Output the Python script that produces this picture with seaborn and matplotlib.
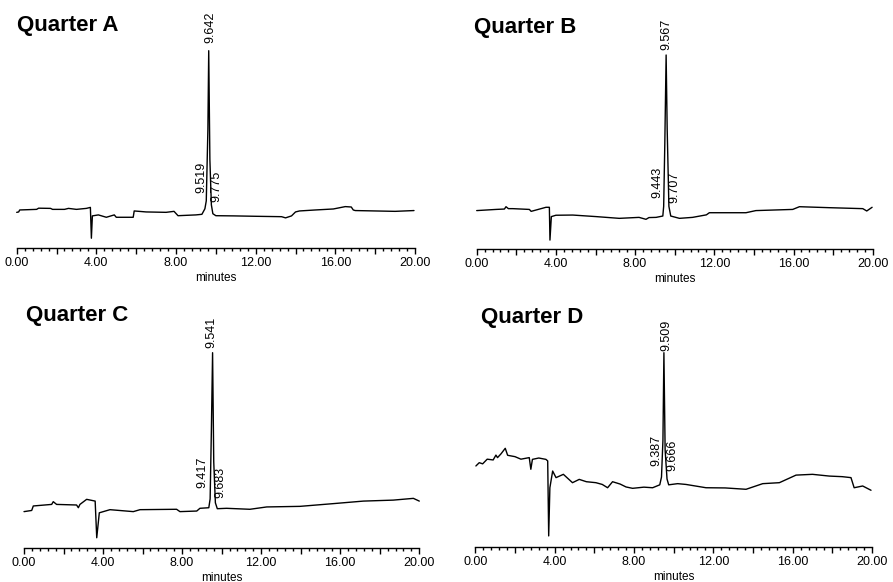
import numpy as np
import pandas as pd
import matplotlib
matplotlib.use("Agg")
import matplotlib.pyplot as plt
import seaborn as sns
from matplotlib.ticker import MultipleLocator, FuncFormatter

sns.set_style("white")
plt.rcParams["font.family"] = ["Liberation Sans", "DejaVu Sans"]
plt.rcParams["text.color"] = "black"
plt.rcParams["axes.labelcolor"] = "black"
plt.rcParams["xtick.color"] = "black"

# chromatogram traces (time in minutes, signal as % of main peak)
time_a = [0.0, 0.1, 0.15, 1.0, 1.1, 1.7, 1.8, 2.4, 2.6, 3.0, 3.5, 3.7, 3.75, 3.8, 4.1,
          4.5, 4.9, 5.0, 5.85, 5.9, 6.5, 7.5, 7.9, 8.1, 9.0, 9.3, 9.45, 9.519, 9.6, 9.642,
          9.7, 9.775, 9.85, 10.0, 10.9, 12.0, 13.3, 13.5, 13.8, 14.0, 14.2, 15.0, 15.9,
          16.5, 16.8, 16.9, 17.0, 18.0, 19.0, 19.95]
signal_a = [18.2, 18.4, 19.4, 19.7, 20.3, 20.2, 19.7, 19.7, 20.2, 19.7, 20.2, 20.7, 5.1,
            16.4, 16.9, 15.7, 16.9, 15.7, 15.7, 18.9, 18.4, 18.2, 18.7, 16.5, 16.9, 17.2,
            20.0, 24.0, 60.0, 100.0, 45.0, 22.0, 17.5, 16.5, 16.4, 16.2, 16.0, 15.4, 16.4,
            18.4, 18.9, 19.4, 19.9, 21.1, 20.9, 19.4, 19.1, 18.9, 18.7, 19.1]

time_b = [0.0, 0.98, 1.4, 1.48, 1.6, 1.82, 2.66, 2.75, 3.5, 3.67, 3.7, 3.77, 4.0, 4.85,
          6.03, 7.2, 8.2, 8.55, 8.7, 9.06, 9.4, 9.443, 9.5, 9.567, 9.62, 9.707, 9.8, 10.24,
          10.9, 11.6, 11.75, 13.6, 14.1, 15.96, 16.3, 17.8, 19.5, 19.7, 19.97]
signal_b = [19.8, 20.4, 20.6, 21.8, 20.8, 20.8, 20.4, 19.4, 21.5, 21.5, 4.6, 16.7, 17.4,
            17.5, 16.7, 15.8, 16.3, 15.3, 16.2, 16.3, 17.0, 22.0, 54.0, 100.0, 62.0, 22.0,
            17.0, 15.8, 16.3, 17.6, 18.7, 18.7, 19.8, 20.4, 21.8, 21.3, 20.8, 19.6, 21.5]

time_c = [0.0, 0.39, 0.47, 1.4, 1.48, 1.65, 2.66, 2.75, 2.83, 3.17, 3.6, 3.68, 3.81, 4.35,
          5.53, 5.87, 7.72, 7.89, 8.74, 8.9, 9.35, 9.417, 9.48, 9.541, 9.6, 9.683, 9.78,
          10.25, 11.43, 12.28, 13.96, 15.65, 17.17, 18.68, 19.7, 20.0]
signal_c = [18.5, 19.1, 21.4, 22.2, 23.6, 22.2, 21.9, 20.5, 22.2, 24.8, 23.9, 5.1, 17.9,
            19.5, 18.5, 19.5, 19.7, 18.5, 18.8, 20.2, 20.5, 25.0, 60.0, 100.0, 44.0, 23.0,
            20.0, 20.2, 19.7, 20.9, 21.2, 22.6, 23.9, 24.4, 25.3, 23.9]

time_d = [0.03, 0.2, 0.37, 0.6, 0.9, 1.04, 1.12, 1.3, 1.51, 1.63, 2.0, 2.3, 2.72, 2.8, 2.88,
          3.2, 3.56, 3.65, 3.7, 3.76, 3.9, 4.07, 4.44, 4.9, 5.24, 5.6, 6.08, 6.4, 6.67, 6.92,
          7.3, 7.6, 7.93, 8.5, 8.94, 9.3, 9.387, 9.46, 9.509, 9.57, 9.666, 9.75, 10.2, 10.62,
          11.63, 12.6, 13.65, 14.49, 15.33, 16.17, 17.0, 17.85, 18.5, 18.94, 19.1, 19.53,
          19.95]
signal_d = [41.7, 43.4, 42.8, 45.2, 44.8, 47.3, 46.0, 48.0, 50.8, 47.2, 46.5, 45.2, 46.0,
            40.0, 45.1, 45.8, 45.1, 44.3, 5.7, 30.5, 39.1, 35.7, 37.4, 33.1, 34.8, 33.6, 33.1,
            32.2, 30.5, 33.6, 32.4, 30.9, 30.2, 30.8, 30.5, 32.0, 36.0, 55.0, 100.0, 50.0,
            35.0, 32.0, 32.6, 32.2, 30.5, 30.4, 29.7, 32.6, 33.1, 37.0, 37.4, 36.5, 36.2, 35.7,
            30.5, 31.4, 29.2]

# peak labels: retention time, label x, label bottom
peaks_a = [("9.642", 9.74, 104.0), ("9.519", 9.29, 27.8), ("9.775", 10.04, 23.6)]
peaks_b = [("9.567", 9.60, 102.6), ("9.443", 9.14, 26.1), ("9.707", 9.98, 23.5)]
peaks_c = [("9.541", 9.49, 102.6), ("9.417", 9.04, 30.4), ("9.683", 9.92, 25.3)]
peaks_d = [("9.509", 9.61, 101.0), ("9.387", 9.11, 41.7), ("9.666", 9.95, 39.1)]

titles = ["Quarter A", "Quarter B", "Quarter C", "Quarter D"]
xlabel = "minutes"

W, H = 893, 582
fig = plt.figure(figsize=(W / 100, H / 100), dpi=100)

# axes rects in pixels: left, right, axis line y, peak top y
rects = [(16.7, 415.0, 248.3, 50.7),
         (476.7, 872.7, 249.0, 55.0),
         (24.0, 419.3, 547.7, 352.7),
         (475.3, 872.0, 547.0, 352.7)]
title_pos = [(17, 25), (474, 27), (26, 316), (481, 318)]

data = [(time_a, signal_a, peaks_a), (time_b, signal_b, peaks_b),
        (time_c, signal_c, peaks_c), (time_d, signal_d, peaks_d)]


def fmt(v, pos):
    if abs(v % 4) < 1e-6:
        return "%.2f" % v
    return ""


for i, ((t, s, pk), (l, r, yb, yt)) in enumerate(zip(data, rects)):
    ax = fig.add_axes([l / W, 1 - yb / H, (r - l) / W, (yb - yt) / H])
    df = pd.DataFrame({"t": t, "s": s})
    sns.lineplot(data=df, x="t", y="s", ax=ax, color="black", linewidth=1.0,
                 sort=False, estimator=None)
    for line in ax.lines:
        line.set_clip_on(False)
    ax.set_xlim(0, 20)
    ax.set_ylim(0, 100)
    for sp in ["top", "right", "left"]:
        ax.spines[sp].set_visible(False)
    ax.spines["bottom"].set_linewidth(1.0)
    ax.spines["bottom"].set_color("black")
    ax.set_yticks([])
    ax.set_ylabel("")
    ax.xaxis.set_major_locator(MultipleLocator(2))
    ax.xaxis.set_minor_locator(MultipleLocator(0.4))
    ax.xaxis.set_major_formatter(FuncFormatter(fmt))
    ax.tick_params(axis="x", which="major", direction="out", length=4.5, width=1.0,
                   color="black", labelsize=9, pad=2, bottom=True)
    ax.tick_params(axis="x", which="minor", direction="out", length=2.5, width=1.0,
                   color="black", bottom=True)
    ax.set_xlabel(xlabel, fontsize=8.5, labelpad=2)
    ax.patch.set_alpha(0)
    for lab, x, y in pk:
        ax.text(x, y, lab, rotation=90, ha="center", va="bottom", fontsize=9,
                clip_on=False)
    tx, ty = title_pos[i]
    fig.text(tx / W, 1 - ty / H, titles[i], fontsize=16, fontweight="bold",
             ha="left", va="center")

fig.savefig("out.png", dpi=100, facecolor="white")
